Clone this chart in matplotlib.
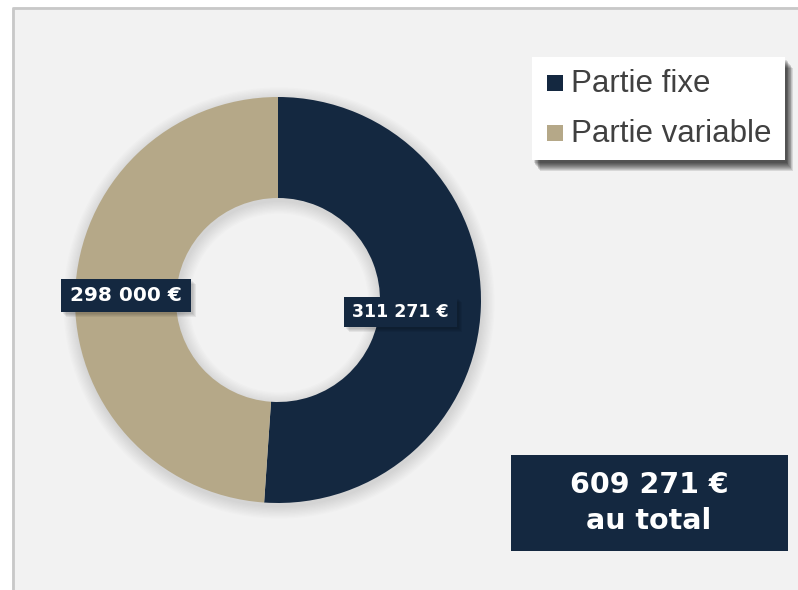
import numpy as np
import matplotlib
matplotlib.use("Agg")
import matplotlib.pyplot as plt
from matplotlib.patches import Rectangle, Wedge

# == data ==
categories = ["Partie fixe", "Partie variable"]
values = [311271, 298000]
value_labels = ["311 271 €", "298 000 €"]
total_label = ["609 271 €", "au total"]

navy = "#142840"
tan = "#b5a888"
colors = [navy, tan]
bg = "#f2f2f2"

W, H = 798, 590
fig = plt.figure(figsize=(W / 100, H / 100), dpi=100)
fig.patch.set_facecolor("white")
ax = fig.add_axes([0, 0, 1, 1])
ax.set_xlim(0, W)
ax.set_ylim(0, H)
ax.set_aspect("equal")
ax.axis("off")

def Y(py):  # pixel row -> data y
    return H - py

# panel with border on top/left
ax.add_patch(Rectangle((12, 0), W - 12, Y(7), facecolor=bg, edgecolor="none", zorder=0))
ax.plot([12.5, 12.5, W], [0, Y(7.5), Y(7.5)], color="#c8c8c8", lw=2, zorder=1)

# == donut ==
cx, cy, R, ring = 278, Y(300), 203, 101
# soft shadow
for i in range(10):
    ax.add_patch(Wedge((cx + 1, cy - 3), R + 1 + i * 1.3, 0, 360, width=ring + 2 + i * 2.6,
                       facecolor="black", alpha=0.012, edgecolor="none", zorder=1))
wedges, _ = ax.pie(values, colors=colors, startangle=90, counterclock=False,
                   center=(cx, cy), radius=R, frame=True,
                   wedgeprops=dict(width=ring, edgecolor="none"))
for w in wedges:
    w.set_zorder(2)
ax.set_xlim(0, W)
ax.set_ylim(0, H)
ax.axis("off")

lab_font = dict(family="DejaVu Sans", weight="bold", color="white")

def label_box(x0, y0, x1, y1, text, size):
    for i in range(4):
        ax.add_patch(Rectangle((x0 + 2 + i, Y(y1) - 2 - i), x1 - x0, y1 - y0,
                               facecolor="black", alpha=0.06, edgecolor="none", zorder=3))
    ax.add_patch(Rectangle((x0, Y(y1)), x1 - x0, y1 - y0, facecolor=navy,
                           edgecolor="none", zorder=4))
    ax.text((x0 + x1) / 2, Y((y0 + y1) / 2), text, ha="center", va="center",
            fontsize=size, zorder=5, **lab_font)

label_box(344, 297, 457, 327, value_labels[0], 12.5)
label_box(61, 279, 191, 312, value_labels[1], 14.5)

# == legend ==
lx0, ly0, lx1, ly1 = 532, 57, 785, 160
for i in range(9):
    ax.add_patch(Rectangle((lx0 + 2 + i * 0.7, Y(ly1) - 3 - i * 1.0), lx1 - lx0, ly1 - ly0,
                           facecolor="black", alpha=0.11, edgecolor="none", zorder=5))
ax.add_patch(Rectangle((lx0, Y(ly1)), lx1 - lx0, ly1 - ly0, facecolor="white",
                       edgecolor="none", zorder=6))
for i, (cat, col) in enumerate(zip(categories, colors)):
    yc = 83 + i * 50
    ax.add_patch(Rectangle((547, Y(yc + 8)), 16, 16, facecolor=col, edgecolor="none", zorder=7))
    ax.text(571, Y(yc + 1), cat, ha="left", va="center", fontsize=22.5,
            family="Liberation Sans", color="#404040", zorder=7)

# == total box ==
ax.add_patch(Rectangle((511, Y(551)), 788 - 511, 551 - 455, facecolor=navy,
                       edgecolor="none", zorder=4))
ax.text(649, Y(485), total_label[0], ha="center", va="center", fontsize=20.5, zorder=5, **lab_font)
ax.text(649, Y(521), total_label[1], ha="center", va="center", fontsize=20.5, zorder=5, **lab_font)

fig.savefig("out.png", dpi=100, facecolor=fig.get_facecolor())
